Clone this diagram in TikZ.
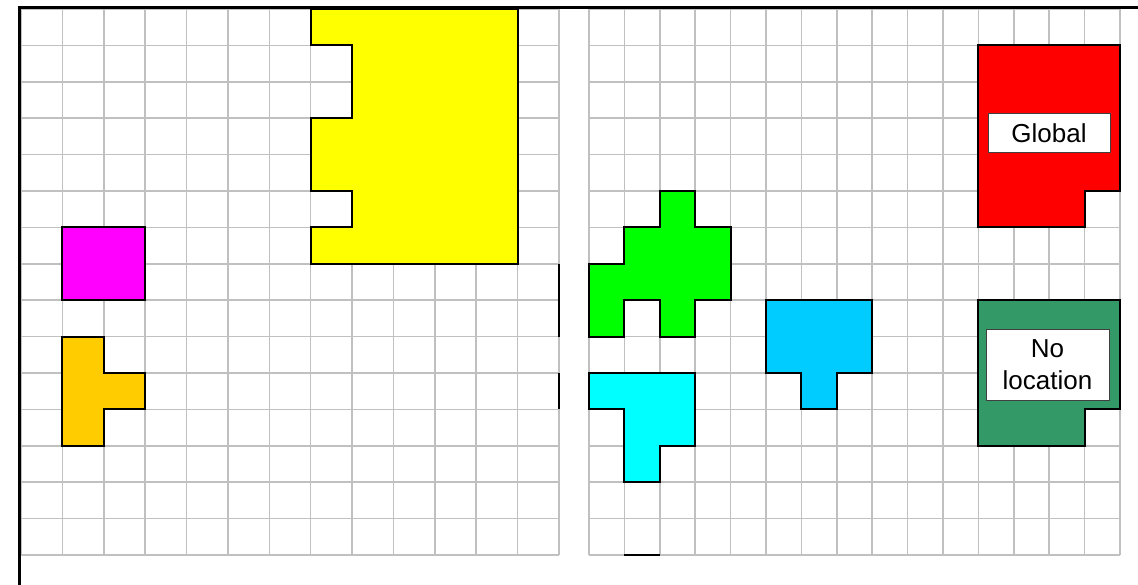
\documentclass[tikz,border=0pt]{standalone}
\usepackage{fontspec}
\setmainfont{Liberation Sans}
\definecolor{gridgray}{HTML}{C0C0C0}
\definecolor{shYellow}{HTML}{FFFF00}
\definecolor{shMagenta}{HTML}{FF00FF}
\definecolor{shOrange}{HTML}{FFCC00}
\definecolor{shGreen}{HTML}{00FF00}
\definecolor{shCyan}{HTML}{00FFFF}
\definecolor{shSky}{HTML}{00CCFF}
\definecolor{shRed}{HTML}{FF0000}
\definecolor{shSea}{HTML}{339966}
\definecolor{boxedge}{HTML}{404040}
\tikzset{
  gridline/.style={draw=gridgray, line width=1.6pt},
  piece/.style={draw=black, line width=2pt, line join=miter},
  frameline/.style={draw=black, line width=2.4pt},
  labelbox/.style={draw=boxedge, fill=white, line width=1pt, inner sep=0pt,
    align=center, font=\fontsize{26}{32}\selectfont},
}
\begin{document}
\begin{tikzpicture}[x=1pt, y=-1pt]
\useasboundingbox (0,0) rectangle (1138,585);
\fill[white] (0,0) rectangle (1138,585);
% left grid
\begin{scope}[xshift=21pt, yshift=-9pt, x=41.385pt, y=-36.4pt]
  \foreach \i in {0,...,13} \draw[gridline] (\i,0) -- (\i,15);
  \foreach \j in {0,...,15} \draw[gridline] (0,\j) -- (13,\j);
  % yellow
  \filldraw[piece, fill=shYellow] (7,0) -- (12,0) -- (12,7) -- (7,7) -- (7,6) -- (8,6) -- (8,5) -- (7,5) -- (7,3) -- (8,3) -- (8,1) -- (7,1) -- cycle;
  % magenta
  \filldraw[piece, fill=shMagenta] (1,6) rectangle (3,8);
  % orange
  \filldraw[piece, fill=shOrange] (1,9) -- (2,9) -- (2,10) -- (3,10) -- (3,11) -- (2,11) -- (2,12) -- (1,12) -- cycle;
  % edge segments
  \draw[piece] (13,7) -- (13,9);
  \draw[piece] (13,10) -- (13,11);
\end{scope}
% right grid
\begin{scope}[xshift=589pt, yshift=-9pt, x=35.4pt, y=-36.4pt]
  \foreach \i in {0,...,15} \draw[gridline] (\i,0) -- (\i,15);
  \foreach \j in {0,...,15} \draw[gridline] (0,\j) -- (15,\j);
  % green
  \filldraw[piece, fill=shGreen] (2,5) -- (3,5) -- (3,6) -- (4,6) -- (4,8) -- (3,8) -- (3,9) -- (2,9) -- (2,8) -- (1,8) -- (1,9) -- (0,9) -- (0,7) -- (1,7) -- (1,6) -- (2,6) -- cycle;
  % cyan
  \filldraw[piece, fill=shCyan] (0,10) -- (3,10) -- (3,12) -- (2,12) -- (2,13) -- (1,13) -- (1,11) -- (0,11) -- cycle;
  % sky blue
  \filldraw[piece, fill=shSky] (5,8) -- (8,8) -- (8,10) -- (7,10) -- (7,11) -- (6,11) -- (6,10) -- (5,10) -- cycle;
  % red
  \filldraw[piece, fill=shRed] (11,1) -- (15,1) -- (15,5) -- (14,5) -- (14,6) -- (11,6) -- cycle;
  % sea green
  \filldraw[piece, fill=shSea] (11,8) -- (15,8) -- (15,11) -- (14,11) -- (14,12) -- (11,12) -- cycle;
  % bottom segment
  \draw[piece] (1,15) -- (2,15);
\end{scope}
% frame
\draw[frameline] (19.5,585) -- (19.5,7.5) -- (1138,7.5);
% labels
\node[labelbox, minimum width=122pt, minimum height=39pt] (global) at (1049,133.5) {Global};
\node[labelbox, minimum width=123pt, minimum height=70pt] (noloc) at (1047.5,365) {No\\location};
\end{tikzpicture}
\end{document}
